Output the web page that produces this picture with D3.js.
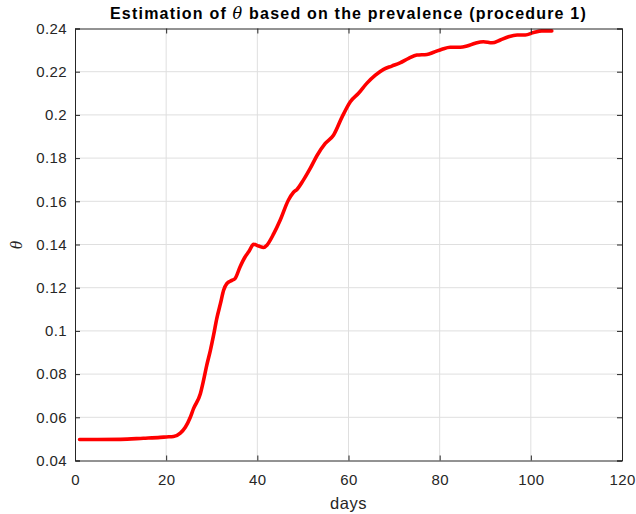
<!DOCTYPE html>
<html><head><meta charset="utf-8">
<script src="https://cdn.jsdelivr.net/npm/d3@7"></script>
<style>body{margin:0;background:#fff}svg{display:block}</style>
</head><body>
<svg id="c" width="636" height="514"></svg>
<script>
const days = [1,5,10,15,18.7,20,21.6,23.1,24.2,25.3,26,27.5,28.2,28.9,29.7,30.4,31.1,31.9,32.6,33.3,34.4,35.1,36.2,37.3,38.1,39.2,40.3,41.4,42.1,43.6,45,46.8,47.9,48.7,50.1,51.6,53.1,54.9,56.7,58.6,60.4,62.2,64,65.9,67.7,69.5,71.3,73.2,75,77.2,78.7,80.5,82.3,84.5,86,87.8,89.6,91.5,93.3,95.1,97,98.8,100.6,102.4,104.6];
const theta = [0.0497,0.0497,0.0498,0.0503,0.0507,0.0509,0.0511,0.0527,0.0554,0.060,0.064,0.0709,0.0771,0.084,0.091,0.098,0.1057,0.1126,0.1188,0.1219,0.1234,0.1242,0.1296,0.1342,0.1366,0.1401,0.1393,0.1386,0.1397,0.145,0.1512,0.1605,0.1641,0.1655,0.1698,0.1752,0.1812,0.1868,0.1906,0.1991,0.2061,0.210,0.2146,0.2184,0.2211,0.2226,0.2241,0.2262,0.2277,0.2280,0.2290,0.2304,0.2313,0.2313,0.2319,0.2332,0.2339,0.2334,0.2347,0.2362,0.2370,0.2370,0.2381,0.2389,0.2389];
const xTicks = [0,20,40,60,80,100,120];
const yTicks = [0.04,0.06,0.08,0.1,0.12,0.14,0.16,0.18,0.2,0.22,0.24];

const svg = d3.select('#c');
const L=75, R=622, T=28.5, B=460.5;
const x = d3.scaleLinear().domain([0,120]).range([L,R]);
const y = d3.scaleLinear().domain([0.04,0.24]).range([B,T]);
const axCol = '#262626', font = '"Liberation Sans", Arial, sans-serif';

// grid
svg.append('g').selectAll('line').data(xTicks.slice(1,-1)).join('line')
  .attr('x1',d=>x(d)).attr('x2',d=>x(d)).attr('y1',T).attr('y2',B)
  .attr('stroke','#dfdfdf').attr('stroke-width',1);
svg.append('g').selectAll('line').data(yTicks.slice(1,-1)).join('line')
  .attr('y1',d=>y(d)).attr('y2',d=>y(d)).attr('x1',L).attr('x2',R)
  .attr('stroke','#dfdfdf').attr('stroke-width',1);

// line
svg.append('path').datum(days.map((d,i)=>[d,theta[i]]))
  .attr('d', d3.line().x(d=>x(d[0])).y(d=>y(d[1])).curve(d3.curveMonotoneX))
  .attr('fill','none').attr('stroke','#ff0000').attr('stroke-width',3.6)
  .attr('stroke-linejoin','round').attr('stroke-linecap','round');

// axes
const gx = svg.append('g').attr('transform',`translate(0,${B})`)
  .call(d3.axisBottom(x).tickValues(xTicks).tickSize(-5).tickPadding(13.5).tickFormat(d3.format('d')));
const gxt = svg.append('g').attr('transform',`translate(0,${T})`)
  .call(d3.axisTop(x).tickValues(xTicks).tickSize(-5).tickFormat(''));
const gy = svg.append('g').attr('transform',`translate(${L},0)`)
  .call(d3.axisLeft(y).tickValues(yTicks).tickSize(-5).tickPadding(8).tickFormat(d=>String(+d.toFixed(2))));
const gyr = svg.append('g').attr('transform',`translate(${R},0)`)
  .call(d3.axisRight(y).tickValues(yTicks).tickSize(-5).tickFormat(''));
[gx,gxt,gy,gyr].forEach(g=>{
  g.select('.domain').attr('stroke',axCol).attr('stroke-width',1);
  g.selectAll('.tick line').attr('stroke',axCol);
  g.selectAll('text').attr('fill',axCol).style('font-family',font).style('font-size','15px').style('letter-spacing','0.4px');
});

// title
const title = svg.append('text').attr('x',(L+R)/2).attr('y',19).attr('text-anchor','middle')
  .style('font-family',font).style('font-size','16px').style('font-weight','bold').attr('fill','#000');
title.append('tspan').text('Estimation of ');
title.append('tspan').text('θ').style('font-family','"DejaVu Serif", "Liberation Serif", serif').style('font-style','italic').style('font-weight','normal');
title.append('tspan').text(' based on the prevalence (procedure 1)');
const natural = title.node().getComputedTextLength();
const nChars = 'Estimation of θ based on the prevalence (procedure 1)'.length;
title.style('letter-spacing', ((477 - natural)/nChars) + 'px');

svg.append('text').attr('x',(L+R)/2).attr('y',509).attr('text-anchor','middle')
  .style('font-family',font).style('font-size','16.5px').style('letter-spacing','0.5px').attr('fill',axCol).text('days');
svg.append('text').attr('transform','translate(22,245) rotate(-90)').attr('text-anchor','middle')
  .style('font-family','"Liberation Serif", serif').style('font-style','italic').style('font-size','17px').attr('fill',axCol).text('θ');
</script>
</body></html>
